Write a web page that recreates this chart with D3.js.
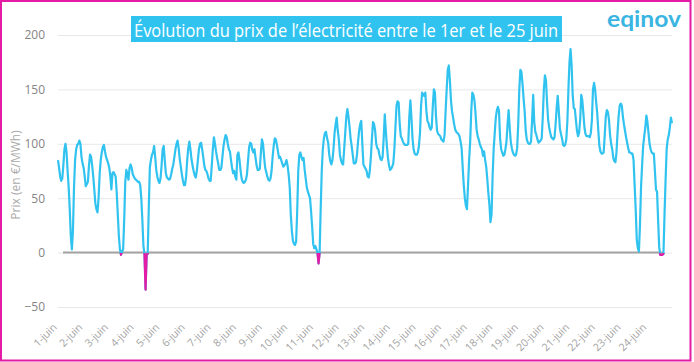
<!DOCTYPE html>
<html>
<head>
<meta charset="utf-8">
<script src="https://cdn.jsdelivr.net/npm/d3@7/dist/d3.min.js"></script>
<style>
  html, body { margin: 0; padding: 0; background: #fff; }
  svg { display: block; font-family: "Open Sans", "Noto Sans", sans-serif; }
</style>
</head>
<body>
<svg id="chart"></svg>
<script>
// libellés des jours (un par jour, 24 points horaires par jour)
const dayLabels = ["1-juin", "2-juin", "3-juin", "4-juin", "5-juin", "6-juin", "7-juin", "8-juin",
  "9-juin", "10-juin", "11-juin", "12-juin", "13-juin", "14-juin", "15-juin", "16-juin",
  "17-juin", "18-juin", "19-juin", "20-juin", "21-juin", "22-juin", "23-juin", "24-juin"];

const yTicks = [-50, 0, 50, 100, 150, 200];

// prix horaires en €/MWh, une ligne par jour
const hourlyPrices = [
  85, 78, 70, 66, 68, 80, 95, 100, 92, 75, 60, 40, 15, 3, 20, 60, 85, 95, 99, 100, 103, 100, 88, 82,
  78, 70, 61, 63, 65, 80, 90, 88, 80, 70, 58, 45, 40, 37, 50, 72, 85, 92, 97, 99, 93, 88, 85, 82,
  78, 70, 58, 73, 74, 72, 70, 55, 35, 15, 3, -2, 1, 3, 30, 65, 76, 72, 67, 78, 81, 78, 72, 70,
  68, 67, 66, 65, 65, 62, 50, 30, 6, -1, -34, -2, -1, 40, 78, 85, 90, 92, 98, 88, 76, 70, 66, 64,
  68, 80, 95, 98, 85, 73, 69, 68, 67, 68, 72, 77, 81, 88, 95, 100, 103, 96, 86, 79, 72, 66, 62, 62,
  70, 85, 96, 102, 95, 86, 80, 75, 71, 69, 75, 85, 95, 100, 101, 95, 88, 80, 76, 75, 72, 68, 66, 66,
  80, 95, 106, 100, 93, 87, 82, 76, 76, 78, 88, 98, 104, 108, 106, 100, 95, 93, 85, 78, 73, 75, 70, 67,
  90, 92, 85, 75, 68, 65, 64, 65, 67, 72, 85, 97, 101, 100, 94, 92, 95, 87, 80, 76, 76, 77, 92, 104,
  100, 88, 78, 74, 70, 67, 66, 68, 75, 88, 98, 105, 104, 99, 93, 87, 88, 85, 82, 79, 80, 82, 85, 80,
  72, 60, 35, 20, 11, 8, 7, 10, 38, 75, 90, 92, 88, 85, 87, 76, 68, 60, 56, 53, 50, 38, 24, 8,
  4, 6, 3, 0, -10, 0, 40, 75, 95, 105, 110, 111, 105, 101, 90, 84, 81, 85, 95, 110, 118, 124, 112, 104,
  90, 85, 82, 81, 95, 110, 125, 132, 125, 116, 105, 98, 90, 82, 82, 83, 90, 102, 112, 118, 121, 100, 81, 79,
  77, 75, 70, 69, 75, 88, 105, 120, 118, 112, 100, 96, 95, 90, 86, 85, 88, 105, 127, 112, 98, 87, 80, 76,
  77, 79, 82, 95, 115, 135, 139, 138, 118, 107, 105, 102, 100, 99, 99, 99, 100, 125, 140, 124, 105, 95, 91, 90,
  90, 92, 98, 110, 135, 147, 145, 144, 147, 130, 121, 119, 115, 113, 115, 135, 150, 147, 125, 112, 109, 108, 107, 104,
  103, 102, 108, 130, 150, 168, 172, 158, 140, 130, 124, 118, 113, 111, 110, 109, 107, 102, 96, 78, 62, 50, 43, 40,
  62, 85, 102, 130, 147, 145, 140, 128, 113, 107, 104, 100, 97, 95, 89, 93, 85, 79, 68, 55, 44, 28, 35, 70,
  95, 110, 124, 131, 134, 130, 105, 95, 92, 89, 90, 95, 102, 118, 131, 115, 102, 96, 92, 90, 89, 90, 96, 118,
  150, 168, 166, 155, 142, 130, 112, 104, 101, 100, 100, 102, 122, 145, 120, 111, 108, 104, 101, 102, 103, 105, 125, 150,
  163, 158, 138, 122, 115, 110, 106, 105, 104, 106, 118, 133, 144, 130, 114, 109, 105, 99, 98, 99, 104, 120, 150, 175,
  187, 172, 145, 133, 132, 122, 112, 107, 110, 122, 145, 140, 128, 115, 109, 107, 107, 107, 106, 110, 122, 150, 156, 150,
  138, 128, 112, 98, 93, 91, 91, 92, 108, 125, 131, 129, 122, 108, 100, 95, 87, 84, 83, 92, 110, 125, 135, 137,
  135, 125, 118, 112, 106, 101, 96, 92, 92, 91, 91, 85, 62, 40, 12, 4, 1, 25, 60, 80, 98, 107, 115, 126,
  120, 110, 100, 95, 92, 91, 91, 75, 58, 56, 30, 5, -2, -2, -2, -1, 35, 67, 95, 104, 108, 115, 124, 119
];

const svgWidth = 694;
const svgHeight = 362;
const cyan = "#31c3f0";
const magenta = "#e31ba5";

const svg = d3.select("#chart").attr("width", svgWidth).attr("height", svgHeight);

// zone de tracé
const plot = { left: 58, right: 672, top: 35, bottom: 307 };

const x = d3.scaleLinear().domain([0, hourlyPrices.length - 1]).range([plot.left, plot.right]);
const y = d3.scaleLinear().domain([-50, 200]).range([plot.bottom, plot.top]);

svg.append("rect").attr("width", svgWidth).attr("height", svgHeight).attr("fill", "#fff");

// grille + étiquettes Y
const yAxis = d3.axisLeft(y)
  .tickValues(yTicks)
  .tickSizeInner(-(plot.right - plot.left))
  .tickSizeOuter(0)
  .tickPadding(13);

const gy = svg.append("g")
  .attr("transform", `translate(${plot.left},0)`)
  .call(yAxis);
gy.select(".domain").remove();
gy.selectAll("line").attr("stroke", "#e8e8e8").attr("stroke-width", 1);
gy.selectAll("text")
  .attr("fill", "#858585")
  .style("font-size", "12px")
  .style("font-family", "'Open Sans', sans-serif");

// ligne du zéro (axe des catégories)
svg.append("line")
  .attr("x1", plot.left + 5)
  .attr("x2", plot.right - 9)
  .attr("y1", y(0))
  .attr("y2", y(0))
  .attr("stroke", "#a3a3a3")
  .attr("stroke-width", 2);

// étiquettes X (une par jour, inclinées)
const dayTicks = dayLabels.map((d, i) => i * 24);
const xAxis = d3.axisBottom(x)
  .tickValues(dayTicks)
  .tickFormat((d, i) => dayLabels[i])
  .tickSize(0);

const gx = svg.append("g")
  .attr("transform", "translate(0,328)")
  .call(xAxis);
gx.select(".domain").remove();
gx.selectAll("text")
  .attr("x", 0)
  .attr("y", 0)
  .attr("dy", 0)
  .attr("text-anchor", "end")
  .attr("transform", "translate(-1,0) rotate(-45)")
  .attr("fill", "#a3a3a3")
  .style("font-size", "10.5px")
  .style("font-family", "'Open Sans', sans-serif");

// titre de l'axe Y
svg.append("text")
  .attr("transform", "translate(20,175) rotate(-90)")
  .attr("text-anchor", "middle")
  .attr("fill", "#aaaaaa")
  .style("font-size", "12px")
  .text("Prix (en €/MWh)");

// courbe des prix
const line = d3.line()
  .x((d, i) => x(i))
  .y(d => y(d));

svg.append("path")
  .datum(hourlyPrices)
  .attr("d", line)
  .attr("fill", "none")
  .attr("stroke", cyan)
  .attr("stroke-width", 2.2)
  .attr("stroke-linejoin", "round");

// partie négative en magenta
svg.append("clipPath")
  .attr("id", "negClip")
  .append("rect")
  .attr("x", 0)
  .attr("y", y(0) + 0.5)
  .attr("width", svgWidth)
  .attr("height", svgHeight - y(0));

svg.append("path")
  .datum(hourlyPrices)
  .attr("d", line)
  .attr("clip-path", "url(#negClip)")
  .attr("fill", "none")
  .attr("stroke", magenta)
  .attr("stroke-width", 2.2)
  .attr("stroke-linejoin", "round");

// titre
svg.append("rect")
  .attr("x", 131)
  .attr("y", 16)
  .attr("width", 431)
  .attr("height", 26)
  .attr("fill", cyan);

svg.append("text")
  .attr("x", 134)
  .attr("y", 36.5)
  .attr("fill", "#fff")
  .attr("textLength", 424)
  .attr("lengthAdjust", "spacingAndGlyphs")
  .style("font-size", "18px")
  .text("Évolution du prix de l’électricité entre le 1er et le 25 juin");

// logo
svg.append("text")
  .attr("x", 607)
  .attr("y", 27)
  .attr("fill", "#3ab5e2")
  .attr("textLength", 74)
  .attr("lengthAdjust", "spacingAndGlyphs")
  .style("font-family", "Lato, 'Open Sans', sans-serif")
  .style("font-weight", "bold")
  .style("font-size", "23px")
  .text("eqinov");

// cadre
svg.append("rect")
  .attr("x", 1)
  .attr("y", 1)
  .attr("width", 689.5)
  .attr("height", 359.5)
  .attr("fill", "none")
  .attr("stroke", magenta)
  .attr("stroke-width", 2);
</script>
</body>
</html>
